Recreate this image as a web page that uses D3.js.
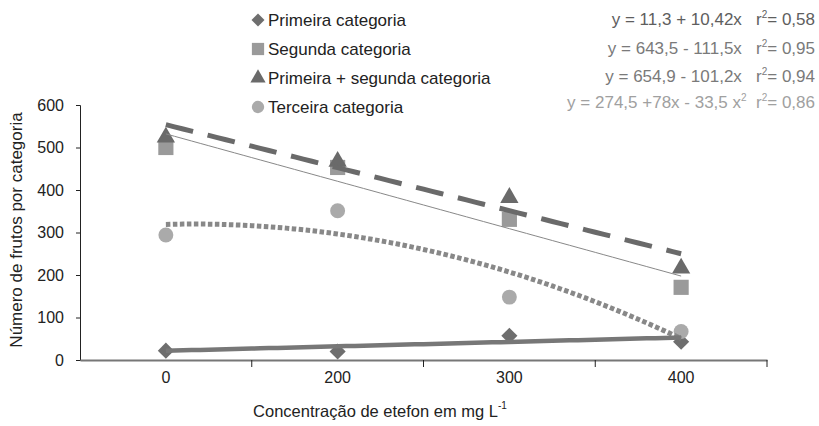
<!DOCTYPE html>
<html>
<head>
<meta charset="utf-8">
<script src="https://cdn.jsdelivr.net/npm/d3@7"></script>
<style>
  body { margin: 0; background: #fff; }
  text { font-family: "Liberation Sans", Arial, sans-serif; }
</style>
</head>
<body>
<script>
// categories (etefon concentration, mg/L)
var doses = ['0', '200', '300', '400'];

// observed values per category
var primeira = [22, 20, 57, 43];
var segunda = [500, 453, 331, 171];
var primeiraSegunda = [524, 467, 382, 216];
var terceira = [294, 351, 148, 67];

// trend line coefficients, as printed on the chart (x = 1..4)
var coefPrimeira = [11.3, 10.42];
var coefSegunda = [643.5, -111.5];
var coefPrimeiraSegunda = [654.9, -101.2];
var coefTerceira = [274.5, 78, -33.5];

var legendLabels = ['Primeira categoria', 'Segunda categoria', 'Primeira + segunda categoria', 'Terceira categoria'];
var equations = ['y = 11,3 + 10,42x', 'y = 643,5 - 111,5x', 'y = 654,9 - 101,2x', 'y = 274,5 +78x - 33,5 x'];
var r2Values = ['0,58', '0,95', '0,94', '0,86'];
var yTicks = [0, 100, 200, 300, 400, 500, 600];

var svg = d3.select('body')
  .append('svg')
  .attr('width', 819)
  .attr('height', 426);

var x = d3.scaleBand().domain(doses).range([80, 767]).padding(0);
var y = d3.scaleLinear().domain([0, 600]).range([360, 105]);
// trend x is the category index 1..4
var xt = d3.scaleLinear().domain([1, 4]).range([x(doses[0]) + x.bandwidth() / 2, x(doses[3]) + x.bandwidth() / 2]);

function cx(d, i) {
  return x(doses[i]) + x.bandwidth() / 2;
}

// y axis
var yAxis = svg.append('g')
  .attr('transform', 'translate(80,0)')
  .call(d3.axisLeft(y).tickValues(yTicks).tickSize(4).tickPadding(12));
yAxis.select('.domain').attr('stroke', '#222');
yAxis.selectAll('.tick line').attr('stroke', '#222');
yAxis.selectAll('.tick text')
  .attr('font-size', 16)
  .attr('fill', '#222')
  .attr('font-family', '"Liberation Sans", Arial, sans-serif');

// x axis: labels at centers, ticks at band edges
var xAxis = svg.append('g')
  .attr('transform', 'translate(0,360)')
  .call(d3.axisBottom(x).tickSize(0).tickPadding(12));
xAxis.select('.domain').attr('stroke', '#777').attr('stroke-width', 2);
xAxis.selectAll('.tick text')
  .attr('font-size', 16)
  .attr('fill', '#222')
  .attr('font-family', '"Liberation Sans", Arial, sans-serif');

var edges = doses.slice(1).map(function(d) { return x(d); });
edges.push(x.range()[1]);
svg.append('g')
  .selectAll('line')
  .data(edges)
  .enter()
  .append('line')
  .attr('x1', function(d) { return d; })
  .attr('x2', function(d) { return d; })
  .attr('y1', 360)
  .attr('y2', 367)
  .attr('stroke', '#222')
  .attr('stroke-width', 1);

// axis titles
svg.append('text')
  .attr('transform', 'translate(22,230) rotate(-90)')
  .attr('text-anchor', 'middle')
  .attr('font-size', 17)
  .attr('fill', '#222')
  .text('Número de frutos por categoria');

var xTitle = svg.append('text')
  .attr('x', 380)
  .attr('y', 417)
  .attr('text-anchor', 'middle')
  .attr('font-size', 16.5)
  .attr('fill', '#222');
xTitle.append('tspan').text('Concentração de etefon em mg L');
xTitle.append('tspan').attr('font-size', 10).attr('dy', -8).text('-1');

// markers
var diamond = d3.symbol().type(d3.symbolSquare).size(130);
var square = d3.symbol().type(d3.symbolSquare).size(230);
var triangle = d3.symbol().type(d3.symbolTriangle).size(145);
var circle = d3.symbol().type(d3.symbolCircle).size(175);

var series = [
  { values: primeira, sym: diamond, color: '#6e6e6e', rot: 45 },
  { values: segunda, sym: square, color: '#9a9a9a', rot: 0 },
  { values: primeiraSegunda, sym: triangle, color: '#6a6a6a', rot: 0 },
  { values: terceira, sym: circle, color: '#aaaaaa', rot: 0 }
];

series.forEach(function(s) {
  svg.append('g')
    .selectAll('path')
    .data(s.values)
    .enter()
    .append('path')
    .attr('d', s.sym)
    .attr('fill', s.color)
    .attr('transform', function(d, i) {
      return 'translate(' + cx(d, i) + ',' + y(d) + ') rotate(' + s.rot + ')';
    });
});

// trend lines
function poly(coef, t) {
  var v = 0;
  for (var k = 0; k < coef.length; k++) v += coef[k] * Math.pow(t, k);
  return v;
}
var steps = d3.range(1, 4.001, 0.05);
var line = d3.line()
  .x(function(d) { return xt(d[0]); })
  .y(function(d) { return y(d[1]); });

function trend(coef) {
  return steps.map(function(t) { return [t, poly(coef, t)]; });
}

svg.append('path')
  .attr('d', line(trend(coefTerceira)))
  .attr('fill', 'none')
  .attr('stroke', '#888')
  .attr('stroke-width', 5)
  .attr('stroke-dasharray', '4.5,2.5');

svg.append('path')
  .attr('d', line(trend(coefSegunda)))
  .attr('fill', 'none')
  .attr('stroke', '#888')
  .attr('stroke-width', 1);

svg.append('path')
  .attr('d', line(trend(coefPrimeiraSegunda)))
  .attr('fill', 'none')
  .attr('stroke', '#6a6a6a')
  .attr('stroke-width', 5)
  .attr('stroke-dasharray', '28,15');

svg.append('path')
  .attr('d', line(trend(coefPrimeira)))
  .attr('fill', 'none')
  .attr('stroke', '#777')
  .attr('stroke-width', 4.5);

// legend
var legendY = [20, 49, 78, 107];
var legendSyms = [
  d3.symbol().type(d3.symbolSquare).size(85),
  d3.symbol().type(d3.symbolSquare).size(150),
  d3.symbol().type(d3.symbolTriangle).size(100),
  d3.symbol().type(d3.symbolCircle).size(120)
];
var legend = svg.append('g');
legendLabels.forEach(function(lab, i) {
  legend.append('path')
    .attr('d', legendSyms[i])
    .attr('fill', series[i].color)
    .attr('transform', 'translate(258,' + legendY[i] + ') rotate(' + series[i].rot + ')');
  legend.append('text')
    .attr('x', 268)
    .attr('y', legendY[i] + 6)
    .attr('font-size', 17)
    .attr('fill', '#222')
    .text(lab);
});

// equations
var eqColors = ['#5e5e5e', '#7a7a7a', '#7a7a7a', '#a0a0a0'];
var eqY = [25, 54, 82, 108];
equations.forEach(function(eq, i) {
  var t = svg.append('text')
    .attr('x', 815)
    .attr('y', eqY[i])
    .attr('text-anchor', 'end')
    .attr('font-size', 17)
    .attr('fill', eqColors[i]);
  t.append('tspan').text(eq);
  if (i == 3) {
    t.append('tspan').attr('font-size', 10).attr('dy', -7).text('2');
    t.append('tspan').attr('dy', 7).text('\u00a0\u00a0r');
  } else {
    t.append('tspan').text('\u00a0\u00a0\u00a0r');
  }
  t.append('tspan').attr('font-size', 10).attr('dy', -7).text('2');
  t.append('tspan').attr('dy', 7).text('= ' + r2Values[i]);
});
</script>
</body>
</html>
